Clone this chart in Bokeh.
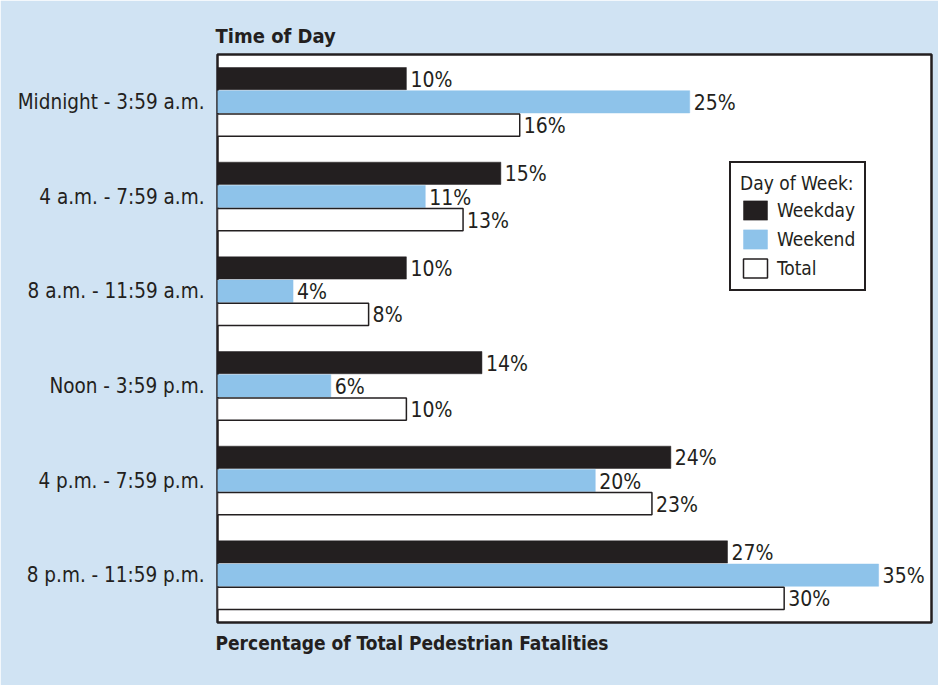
from bokeh.plotting import figure
from bokeh.models import (ColumnDataSource, FactorRange, Range1d, Title, Legend, LegendItem)
from bokeh.transform import dodge
from bokeh.core.properties import value
from bokeh.embed import file_html
from bokeh.resources import INLINE

categories = ["Midnight - 3:59 a.m.", "4 a.m. - 7:59 a.m.", "8 a.m. - 11:59 a.m.",
              "Noon - 3:59 p.m.", "4 p.m. - 7:59 p.m.", "8 p.m. - 11:59 p.m."]
weekday = [10, 15, 10, 14, 24, 27]
weekend = [25, 11, 4, 6, 20, 35]
total = [16, 13, 8, 10, 23, 30]
series_names = ["Weekday", "Weekend", "Total"]

FONT = "DejaVu Sans Condensed"
BG = "#d0e3f3"
C_WD = "#231f20"
C_WE = "#8ec3ea"

src = ColumnDataSource(dict(
    cat=categories,
    weekday=weekday, weekend=weekend, total=total,
    wd_lbl=[f"{v}%" for v in weekday],
    we_lbl=[f"{v}%" for v in weekend],
    to_lbl=[f"{v}%" for v in total],
))

p = figure(width=938, height=685, output_backend="svg", toolbar_location=None,
           y_range=FactorRange(factors=list(reversed(categories)), range_padding=0),
           x_range=Range1d(0, 37.8),
           min_border_left=217, min_border_top=54, min_border_bottom=63, min_border_right=7)

p.border_fill_color = BG
p.background_fill_color = "white"
p.outline_line_color = "#231f20"
p.outline_line_width = 2.5
p.grid.visible = False

off = 0.245
h = 0.235
r_wd = p.hbar(y=dodge("cat", off, range=p.y_range), left=0, right="weekday", height=h,
              source=src, fill_color=C_WD, line_color=C_WD, line_width=0.5)
r_we = p.hbar(y=dodge("cat", 0, range=p.y_range), left=0, right="weekend", height=h,
              source=src, fill_color=C_WE, line_color=C_WE, line_width=0.5)
r_to = p.hbar(y=dodge("cat", -off, range=p.y_range), left=0, right="total", height=h,
              source=src, fill_color="white", line_color="#231f20", line_width=1.5)

for col, lbl, o in [("weekday", "wd_lbl", off), ("weekend", "we_lbl", 0), ("total", "to_lbl", -off)]:
    p.text(x=col, y=dodge("cat", o, range=p.y_range), text=lbl, source=src,
           x_offset=4, y_offset=1, text_baseline="middle", text_align="left",
           text_font=value(FONT), text_font_size="21px", text_color="#231f20")

# axes
p.xaxis.visible = False
ya = p.yaxis[0]
ya.axis_line_color = None
ya.major_tick_line_color = None
ya.minor_tick_line_color = None
ya.major_label_text_font = FONT
ya.major_label_text_font_size = "20.5px"
ya.major_label_text_color = "#231f20"
ya.major_label_standoff = 7

p.add_layout(Title(text="Time of Day", align="left", text_font=FONT, text_font_size="20px",
                   text_font_style="bold", text_color="#231f20", offset=-2, standoff=13), "above")
p.add_layout(Title(text="Percentage of Total Pedestrian Fatalities", align="left", text_font=FONT,
                   text_font_size="19px", text_font_style="bold", text_color="#231f20",
                   offset=-2, standoff=15), "below")

legend = Legend(items=[LegendItem(label=series_names[0], renderers=[r_wd]),
                       LegendItem(label=series_names[1], renderers=[r_we]),
                       LegendItem(label=series_names[2], renderers=[r_to])],
                title="Day of Week:", location=(512, 331),
                title_text_font=FONT, title_text_font_size="19px", title_text_font_style="normal",
                title_text_color="#231f20", title_standoff=4,
                label_text_font=FONT, label_text_font_size="19px", label_text_color="#231f20",
                label_standoff=7,
                glyph_width=30, glyph_height=24, label_height=24, spacing=5,
                border_line_color="#231f20", border_line_width=2, border_line_alpha=1,
                padding=9, margin=0,
                background_fill_color="white", background_fill_alpha=1)
p.add_layout(legend)

open("out.html", "w").write(file_html(p, INLINE))
